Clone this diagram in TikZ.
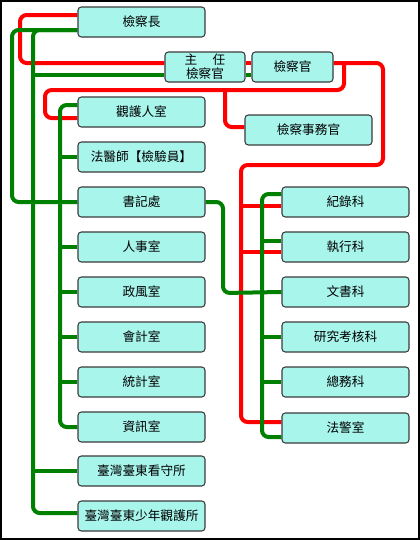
\documentclass[tikz,border=0pt]{standalone}
\usepackage{fontspec}
\newfontfamily\cjk{Noto Sans CJK TC}
\usetikzlibrary{calc}
\definecolor{boxfill}{HTML}{A8F5EC}
\definecolor{boxline}{HTML}{3A3A3A}
\definecolor{redline}{HTML}{FF0000}
\definecolor{greenline}{HTML}{008000}
\pgfdeclarelayer{background}
\pgfsetlayers{background,main}
\tikzset{
  unit/.style={draw=boxline, fill=boxfill, rounded corners=2.5pt, line width=0.8pt,
    minimum width=95.25pt, minimum height=22.5pt, inner sep=0pt,
    font=\cjk\fontsize{9.5pt}{11pt}\selectfont, align=center},
  redlink/.style={draw=redline, line width=3pt, rounded corners=5pt},
  greenlink/.style={draw=greenline, line width=3pt, rounded corners=5pt},
}
\begin{document}
\begin{tikzpicture}[x=0.75pt,y=-0.75pt]
\useasboundingbox (0,0) rectangle (420,540);
\draw[black, line width=1.2pt] (0.8,0.8) rectangle (419.2,539.2);
% nodes
\node[unit] (chief) at (141.5,22) {檢察長};
\node[unit, minimum width=60pt, font=\cjk\fontsize{9.5pt}{10.5pt}\selectfont] (zhuren) at (205,67) {主\hspace{1.2em}任\\檢察官};
\node[unit, minimum width=60.75pt] (jcg) at (292.5,67) {檢察官};
\node[unit] (guanhu) at (141.5,112) {觀護人室};
\node[unit] (shiwu) at (308.5,130) {檢察事務官};
\node[unit] (fayi) at (141.5,157) {法醫師【檢驗員】};
\node[unit] (shuji) at (141.5,202) {書記處};
\node[unit] (renshi) at (141.5,247) {人事室};
\node[unit] (zhengfeng) at (141.5,292) {政風室};
\node[unit] (kuaiji) at (141.5,337) {會計室};
\node[unit] (tongji) at (141.5,382) {統計室};
\node[unit] (zixun) at (141.5,427) {資訊室};
\node[unit] (kanshou) at (141.5,471) {臺灣臺東看守所};
\node[unit] (shaonian) at (141.5,516) {臺灣臺東少年觀護所};
\node[unit] (jilu) at (345.5,202) {紀錄科};
\node[unit] (zhixing) at (345.5,247) {執行科};
\node[unit] (wenshu) at (345.5,292) {文書科};
\node[unit] (yanjiu) at (345.5,337) {研究考核科};
\node[unit] (zongwu) at (345.5,382) {總務科};
\node[unit] (fajing) at (345.5,428) {法警室};
% junction coordinates
\coordinate (rj1) at (344,63);
\coordinate (rj2) at (225,90);
\coordinate (rv) at (241,206);
\coordinate (rv2) at (241,252);
\coordinate (gv) at (33,75);
\coordinate (gv2) at (33,471);
\coordinate (gi) at (60,157);
\coordinate (gr) at (262,241);
\begin{pgfonlayer}{background}
% red lines
\draw[redlink] ($(chief.west)+(0,-7)$) -- (20,15) -- (20,63) -- ($(zhuren.west)+(0,-4)$);
\draw[redlink] ($(zhuren.east)+(0,-4)$) -- ($(jcg.west)+(0,-4)$);
\draw[redlink] ($(jcg.east)+(0,-4)$) -- (383,63) -- (383,165) -- (241,165) -- (241,422) -- ($(fajing.west)+(0,-6)$);
\draw[redlink] (rv) -- ($(jilu.west)+(0,4)$);
\draw[redlink] (rv2) -- ($(zhixing.west)+(0,5)$);
\draw[redlink] (rj1) -- (344,90) -- (45,90) -- (45,118) -- ($(guanhu.west)+(0,6)$);
\draw[redlink] (rj2) -- (225,127) -- ($(shiwu.west)+(0,-3)$);
% green lines
\draw[greenlink] ($(chief.west)+(0,8)$) -- (12,30) -- (12,202) -- (shuji.west);
\draw[greenlink] ($(chief.west)+(0,8)$) -- (33,30) -- (33,513) -- ($(shaonian.west)+(0,-3)$);
\draw[greenlink] (gv) -- ($(zhuren.west)+(0,8)$);
\draw[greenlink] ($(zhuren.east)+(0,8)$) -- ($(jcg.west)+(0,8)$);
\draw[greenlink] (gv2) -- (kanshou.west);
\draw[greenlink] ($(guanhu.west)+(0,-7)$) -- (60,105) -- (60,427) -- (zixun.west);
\draw[greenlink] (gi) -- (fayi.west);
\draw[greenlink] (60,247) -- (renshi.west);
\draw[greenlink] (60,292) -- (zhengfeng.west);
\draw[greenlink] (60,337) -- (kuaiji.west);
\draw[greenlink] (60,382) -- (tongji.west);
\draw[greenlink] (shuji.east) -- (223,202) -- (223,293) -- (wenshu.west);
\draw[greenlink] ($(jilu.west)+(0,-8)$) -- (262,194) -- (262,437) -- ($(fajing.west)+(0,9)$);
\draw[greenlink] (gr) -- ($(zhixing.west)+(0,-6)$);
\draw[greenlink] (262,337) -- (yanjiu.west);
\draw[greenlink] (262,382) -- (zongwu.west);
\end{pgfonlayer}
\end{tikzpicture}
\end{document}
